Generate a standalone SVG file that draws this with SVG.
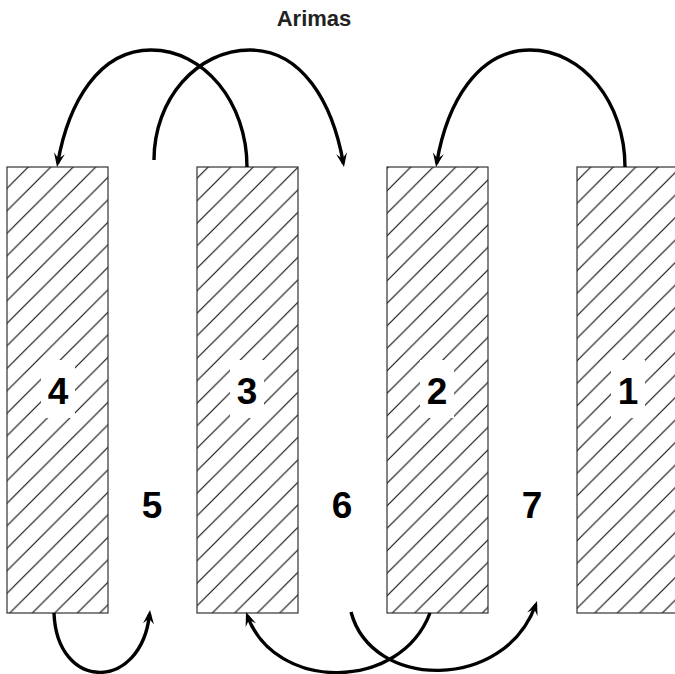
<svg xmlns="http://www.w3.org/2000/svg" width="675" height="674" viewBox="0 0 675 674">
  <style>
    .box { fill: url(#hatch); stroke: #333; stroke-width: 1.2; }
    .bg { fill: #fff; stroke: none; }
    .num { font-family: "Liberation Sans", Arial, sans-serif; font-weight: bold; font-size: 37px; text-anchor: middle; fill: #000; }
    .title { font-family: "Liberation Sans", Arial, sans-serif; font-weight: bold; font-size: 22px; text-anchor: middle; fill: #222; }
    .arc { fill: none; stroke: #000; stroke-width: 3.4; }
    .arrow { marker-end: url(#head); }
    .hl { stroke: #000; stroke-width: 1; }
  </style>
  <defs>
    <pattern id="hatch" patternUnits="userSpaceOnUse" width="22.5" height="22.5" patternTransform="translate(15.3,0)">
      <rect width="22.5" height="22.5" fill="#fff"/>
      <line class="hl" x1="-1" y1="23.5" x2="23.5" y2="-1"/>
      <line class="hl" x1="-1" y1="1" x2="1" y2="-1"/>
      <line class="hl" x1="21.5" y1="23.5" x2="23.5" y2="21.5"/>
    </pattern>
    <marker id="head" markerUnits="userSpaceOnUse" orient="auto" markerWidth="30" markerHeight="30" refX="0" refY="0" viewBox="-15 -15 30 30" overflow="visible">
      <path d="M4,0 L-10,-5.5 L-4.5,0 L-10,5.5 Z" fill="#000"/>
    </marker>
  </defs>

  <g id="title">
    <text class="title" x="314" y="26">Arimas</text>
  </g>

  <g id="n4">
    <rect class="box" x="7" y="167" width="101" height="446"/>
    <rect class="bg" x="41" y="360" width="34" height="58"/>
    <text class="num" x="58" y="404">4</text>
  </g>
  <g id="n3">
    <rect class="box" x="197" y="167" width="101" height="446"/>
    <rect class="bg" x="230" y="360" width="34" height="58"/>
    <text class="num" x="247" y="404">3</text>
  </g>
  <g id="n2">
    <rect class="box" x="387" y="167" width="101" height="446"/>
    <rect class="bg" x="420" y="360" width="34" height="58"/>
    <text class="num" x="437" y="404">2</text>
  </g>
  <g id="n1">
    <rect class="box" x="577" y="167" width="104" height="446"/>
    <rect class="bg" x="611" y="360" width="34" height="58"/>
    <text class="num" x="628" y="404">1</text>
  </g>
  <g id="n5">
    <text class="num" x="152" y="518">5</text>
  </g>
  <g id="n6">
    <text class="num" x="342" y="518">6</text>
  </g>
  <g id="n7">
    <text class="num" x="532" y="518">7</text>
  </g>

  <g id="connectors">
    <path class="arc arrow" d="M247,167 C247,102.4 204,50 151,50 C99,50 68.4,102.4 57.7,163.1"/>
    <path class="arc arrow" d="M154,160 C154,99.2 197,50 250,50 C302,50 332.6,102.4 343.3,163.1"/>
    <path class="arc arrow" d="M625,167 C625,102.4 582.5,50 530,50 C478,50 447,102.4 436.7,163.1"/>
    <path class="arc arrow" d="M54,613 C57,692 141,692 149.6,614"/>
    <path class="arc arrow" d="M351,612 C372,691 505,691 535.7,604.8"/>
    <path class="arc arrow" d="M430,613 C400,692 275,692 247.4,615.8"/>
  </g>
</svg>
